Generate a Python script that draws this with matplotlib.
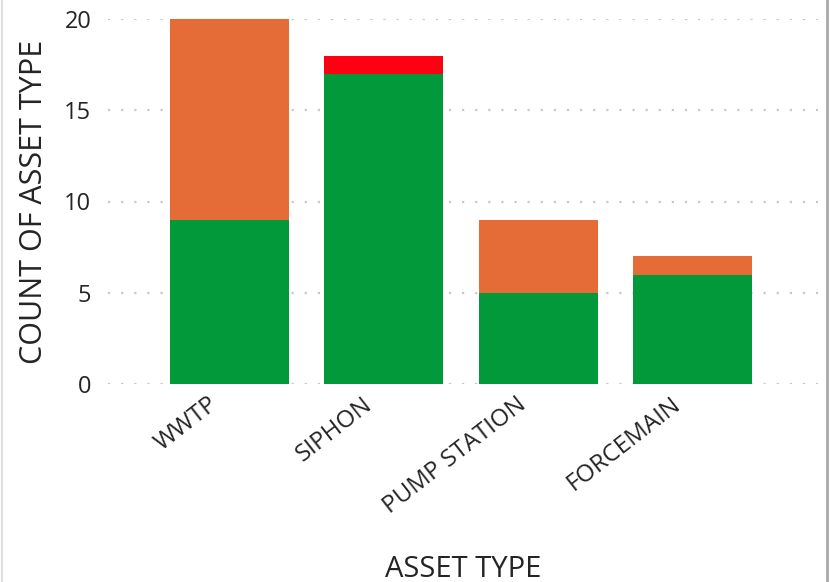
import matplotlib.pyplot as plt
import matplotlib.transforms as mtransforms
import numpy as np

# Data
asset_types = ['WWTP', 'SIPHON', 'PUMP STATION', 'FORCEMAIN']
green_counts = [9, 17, 5, 6]
orange_counts = [11, 0, 4, 1]
red_counts = [0, 1, 0, 0]

plt.rcParams['font.family'] = ['Open Sans', 'DejaVu Sans']

fig = plt.figure(figsize=(8.3, 5.82), dpi=100)
ax = fig.add_axes([108 / 830, 1 - 384 / 582, 710 / 830, 365 / 582])

x = np.arange(len(asset_types))
green = np.array(green_counts)
orange = np.array(orange_counts)
red = np.array(red_counts)

ax.bar(x, green, width=0.77, color='#02993A', zorder=2)
ax.bar(x, orange, width=0.77, bottom=green, color='#E66C37', zorder=2)
ax.bar(x, red, width=0.77, bottom=green + orange, color='#FF0012', zorder=2)

ax.set_xlim(-0.786, 3.81)
ax.set_ylim(0, 20)
ax.set_yticks([0, 5, 10, 15, 20])

# Dotted gridlines like Power BI
ax.grid(axis='y', color='#c8c8c8', linestyle=(0, (1, 4.9)), linewidth=1.6, zorder=1)
for s in ax.spines.values():
    s.set_visible(False)
ax.tick_params(length=0)
ax.tick_params(axis='y', labelsize=17, pad=12, colors='#252423')

ax.set_xticks(x)
ax.set_xticklabels(asset_types, rotation=38, ha='right', rotation_mode='anchor',
                   fontsize=17.5, color='#252423')
ax.tick_params(axis='x', pad=6)
# nudge rotated labels left so they end just short of the bar centre
shift = mtransforms.ScaledTranslation(-22 / 100, 0, fig.dpi_scale_trans)
for lbl in ax.get_xticklabels():
    lbl.set_transform(lbl.get_transform() + shift)

ax.set_xlabel('ASSET TYPE', fontsize=21, color='#252423', labelpad=26)
ax.set_ylabel('COUNT OF ASSET TYPE', fontsize=22, color='#252423', labelpad=11)

# light frame on the left and right edges
fig.add_artist(plt.Line2D([2 / 830, 2 / 830], [0, 1], color='#e0e0e0', lw=1.5))
fig.add_artist(plt.Line2D([826.5 / 830, 826.5 / 830], [0, 1], color='#a8a8a8', lw=2))

fig.savefig('out.png', dpi=100)
